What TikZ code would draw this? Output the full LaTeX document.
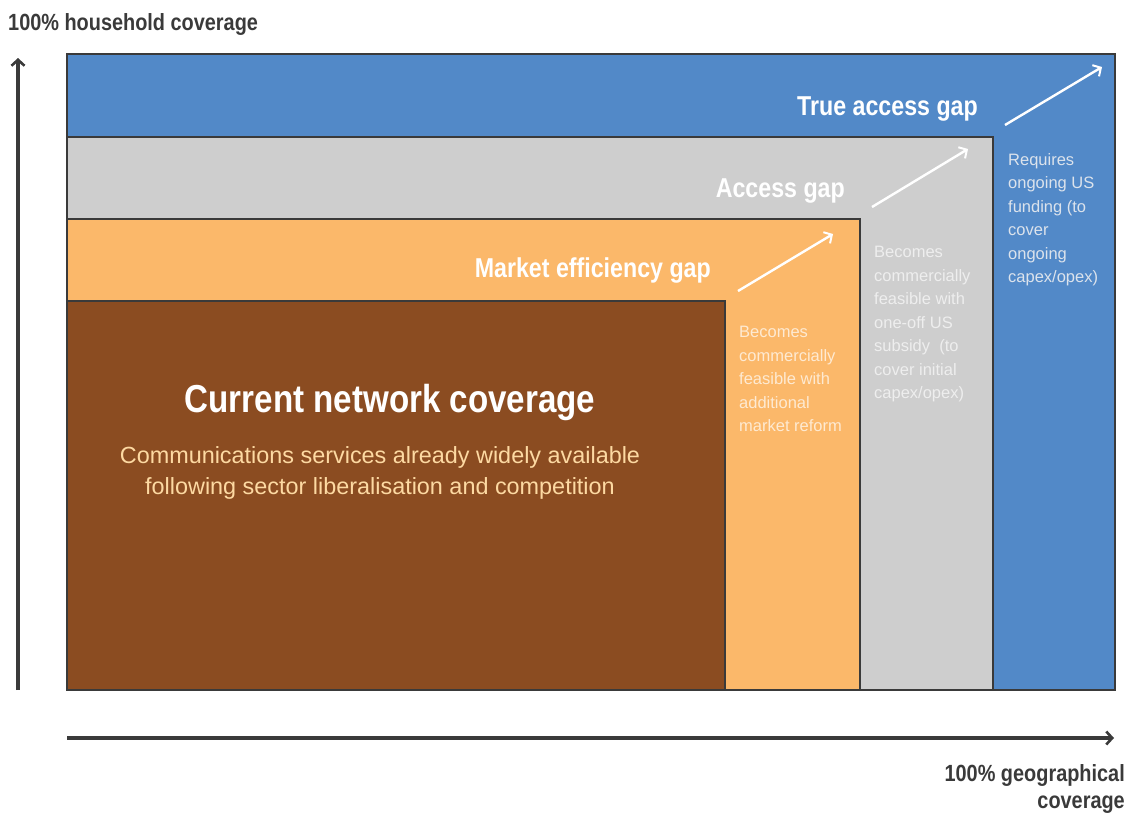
\documentclass[tikz,border=0pt]{standalone}
\usepackage{fontspec}
\setmainfont{Liberation Sans}
\newfontfamily\condbold[FakeStretch=0.85]{Liberation Sans Bold}
\usetikzlibrary{arrows.meta}
\definecolor{cblue}{HTML}{5289C8}
\definecolor{cgray}{HTML}{CECECE}
\definecolor{corange}{HTML}{FBB86A}
\definecolor{cbrown}{HTML}{8B4C21}
\definecolor{axisc}{HTML}{3A3A3A}
\definecolor{subc}{HTML}{FDD9A2}
\definecolor{otext}{HTML}{FEEAD2}
\definecolor{gtext}{HTML}{EEEEEE}
\definecolor{btext}{HTML}{DCE3EC}
\tikzset{
  box/.style={draw=axisc, line width=1.5pt, inner sep=0pt, outer sep=0pt, anchor=north west},
  axis/.style={draw=axisc, line width=3.2pt, -{Straight Barb[length=6pt,width=13pt,line width=2.6pt]}},
  warrow/.style={draw=white, line width=2.4pt, -{Straight Barb[length=6pt,width=13pt,line width=2pt]}},
  gaptitle/.style={anchor=base east, inner sep=0pt, text=white, font=\condbold\fontsize{27.3}{30}\selectfont},
  smalltext/.style={anchor=north west, inner sep=0pt, align=left, font=\fontsize{16.5}{23.5}\selectfont},
  axislabel/.style={inner sep=0pt, text=axisc, font=\condbold\fontsize{23.4}{27}\selectfont}
}
\begin{document}
\begin{tikzpicture}[x=1pt,y=-1pt]
\useasboundingbox (0,0) rectangle (1134,812);
% boxes
\node[box, fill=cblue, minimum width=1048pt, minimum height=636pt] (blue) at (67,54) {};
\node[box, fill=cgray, minimum width=926pt, minimum height=553pt] (gray) at (67,137) {};
\node[box, fill=corange, minimum width=793pt, minimum height=471pt] (orange) at (67,219) {};
\node[box, fill=cbrown, minimum width=658pt, minimum height=389pt] (brown) at (67,301) {};
% axes
\coordinate (yb) at (18,690);
\coordinate (yt) at (18,58);
\coordinate (xl) at (67,738);
\coordinate (xr) at (1114,738);
\draw[axis] (yb) -- (yt);
\draw[axis] (xl) -- (xr);
\node[axislabel, anchor=base west] (ylab) at (8,30) {100\% household coverage};
\node[axislabel, anchor=north east, align=right] (xlab) at (1125,764) {100\% geographical\\coverage};
% titles
\node[gaptitle] (t1) at (978,115) {True access gap};
\node[gaptitle] (t2) at (845,197) {Access gap};
\node[gaptitle] (t3) at (711,277) {Market efficiency gap};
\node[anchor=base, inner sep=0pt, text=white, font=\condbold\fontsize{39}{42}\selectfont] (t4) at (390,412) {Current network coverage};
\node[anchor=north, inner sep=0pt, align=center, text=subc, font=\fontsize{23.4}{31}\selectfont] (sub) at (380,446) {Communications services already widely available\\following sector liberalisation and competition};
% white arrows
\coordinate (a1s) at (738,291); \coordinate (a1e) at (833,234);
\coordinate (a2s) at (872,207); \coordinate (a2e) at (968,149);
\coordinate (a3s) at (1005,125); \coordinate (a3e) at (1102,67);
\draw[warrow] (a1s) -- (a1e);
\draw[warrow] (a2s) -- (a2e);
\draw[warrow] (a3s) -- (a3e);
% small texts
\node[smalltext, text=otext] (s1) at (739,326) {Becomes\\commercially\\feasible with\\additional\\market reform};
\node[smalltext, text=gtext] (s2) at (874,246) {Becomes\\commercially\\feasible with\\one-off US\\subsidy\ \ (to\\cover initial\\capex/opex)};
\node[smalltext, text=btext] (s3) at (1008,153) {Requires\\ongoing US\\funding (to\\cover\\ongoing\\capex/opex)};
\end{tikzpicture}
\end{document}
